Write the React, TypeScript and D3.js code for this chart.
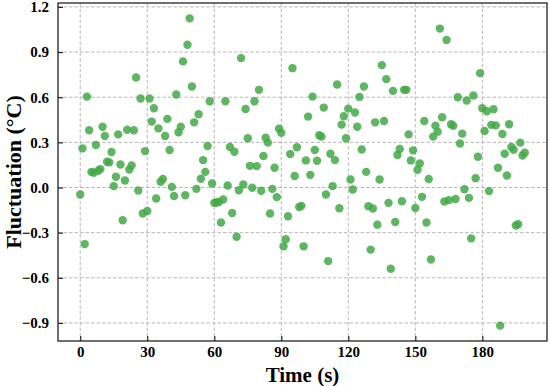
import { useEffect, useRef } from "react";
import * as d3 from "d3";

// fluctuation readings, one per second (t = 0..199)
const values: number[] = [
  -0.047, 0.26, -0.376, 0.604, 0.38, 0.104, 0.098, 0.282, 0.111, 0.122,
  0.404, 0.342, 0.171, 0.167, 0.236, 0.009, 0.071, 0.353, 0.153, -0.218,
  0.047, 0.384, 0.12, 0.147, 0.38, 0.731, -0.02, 0.591, -0.173, 0.242,
  -0.156, 0.591, 0.438, 0.527, -0.073, 0.393, 0.038, 0.056, 0.342, 0.456,
  0.249, 0.004, -0.056, 0.618, 0.367, 0.404, 0.838, -0.051, 0.949, 1.124,
  0.671, 0.433, -0.009, 0.487, 0.058, 0.182, 0.104, 0.276, 0.573, 0.027,
  -0.102, -0.1, -0.096, -0.233, -0.08, 0.573, 0.013, 0.269, -0.169, 0.238,
  -0.327, -0.018, 0.86, 0.02, 0.522, 0.327, 0.144, -0.002, 0.573, 0.142,
  0.649, -0.022, 0.209, 0.331, 0.298, -0.173, -0.009, 0.131, -0.064, 0.391,
  0.364, -0.391, -0.344, -0.191, 0.222, 0.793, 0.076, 0.267, -0.129, -0.122,
  -0.391, 0.18, 0.471, 0.084, 0.604, 0.249, 0.178, 0.347, 0.338, 0.531,
  -0.047, -0.489, 0.224, 0.009, 0.182, 0.684, -0.138, 0.418, 0.473, 0.327,
  0.524, 0.053, -0.013, 0.498, 0.404, 0.602, 0.253, 0.671, 0.104, -0.124,
  -0.413, -0.14, 0.433, -0.247, 0.053, 0.813, 0.442, 0.72, -0.102, -0.54,
  0.642, -0.229, 0.216, 0.256, -0.091, 0.649, 0.649, 0.353, 0.18, 0.247,
  -0.136, 0.118, 0.16, -0.062, 0.442, -0.233, 0.056, -0.478, 0.338, 0.411,
  0.371, 1.056, 0.467, -0.093, 0.98, -0.084, 0.42, 0.41, -0.076, 0.6,
  0.293, 0.358, -0.011, 0.578, -0.069, -0.338, 0.611, 0.062, 0.204, 0.76,
  0.527, 0.376, 0.507, -0.024, 0.416, 0.52, 0.413, 0.131, -0.918, 0.356,
  0.224, 0.08, 0.42, 0.269, 0.251, -0.253, -0.244, 0.298, 0.213, 0.231,
];
const times: number[] = values.map((_, i) => i);

const xTicks = [0, 30, 60, 90, 120, 150, 180];
const yTicks = [-0.9, -0.6, -0.3, 0.0, 0.3, 0.6, 0.9, 1.2];

const App: React.FC = () => {
  const ref = useRef<SVGSVGElement>(null);

  useEffect(() => {
    const width = 550;
    const height = 386;
    const m = { left: 58, right: 3, top: 3, bottom: 45 };

    const svg = d3.select(ref.current);
    svg.selectAll("*").remove();
    svg.attr("width", width).attr("height", height);

    const x = d3.scaleLinear().domain([-9.95, 208.95]).range([m.left, width - m.right]);
    const y = d3.scaleLinear().domain([-1.02, 1.226]).range([height - m.bottom, m.top]);

    const font = "'Liberation Serif', 'Times New Roman', serif";

    // grid
    const grid = svg.append("g").attr("stroke", "#b0b0b0").attr("stroke-width", 0.9)
      .attr("stroke-dasharray", "3.5,2");
    grid.selectAll("line.gx").data(xTicks).join("line")
      .attr("x1", d => x(d)).attr("x2", d => x(d))
      .attr("y1", m.top).attr("y2", height - m.bottom);
    grid.selectAll("line.gy").data(yTicks).join("line")
      .attr("class", "gy")
      .attr("x1", m.left).attr("x2", width - m.right)
      .attr("y1", d => y(d)).attr("y2", d => y(d));

    // points
    svg.append("g").selectAll("circle").data(values).join("circle")
      .attr("cx", (_, i) => x(times[i]))
      .attr("cy", d => y(d))
      .attr("r", 4.2)
      .attr("fill", "#43a947")
      .attr("fill-opacity", 0.85);

    // axes with inward ticks
    const xAxis = svg.append("g")
      .attr("transform", `translate(0,${height - m.bottom})`)
      .call(d3.axisBottom(x).tickValues(xTicks).tickSize(-5).tickPadding(5).tickFormat(d3.format("d")));
    const yAxis = svg.append("g")
      .attr("transform", `translate(${m.left},0)`)
      .call(d3.axisLeft(y).tickValues(yTicks).tickSize(-5).tickPadding(9)
        .tickFormat(d => d3.format(".1f")(d as number).replace("-", "\u2212")));
    [xAxis, yAxis].forEach(a => {
      a.select(".domain").remove();
      a.selectAll(".tick line").attr("stroke", "#222").attr("stroke-width", 1.2);
      a.selectAll(".tick text").attr("fill", "#000").style("font-family", font)
        .style("font-weight", "bold").style("font-size", "15px");
    });

    // frame
    svg.append("rect")
      .attr("x", m.left).attr("y", m.top)
      .attr("width", width - m.left - m.right).attr("height", height - m.top - m.bottom)
      .attr("fill", "none").attr("stroke", "#222").attr("stroke-width", 1.3);

    // titles
    svg.append("text")
      .attr("x", (m.left + width - m.right) / 2).attr("y", 382)
      .attr("text-anchor", "middle")
      .style("font-family", font).style("font-weight", "bold").style("font-size", "21px")
      .text("Time (s)");
    svg.append("text")
      .attr("transform", `translate(21,${(m.top + height - m.bottom) / 2}) rotate(-90)`)
      .attr("text-anchor", "middle")
      .style("font-family", font).style("font-weight", "bold").style("font-size", "22px")
      .text("Fluctuation (°C)");
  }, []);

  return (
    <div style={{ position: "absolute", left: 0, top: 0 }}>
      <svg ref={ref} style={{ display: "block" }} />
    </div>
  );
};

export default App;
